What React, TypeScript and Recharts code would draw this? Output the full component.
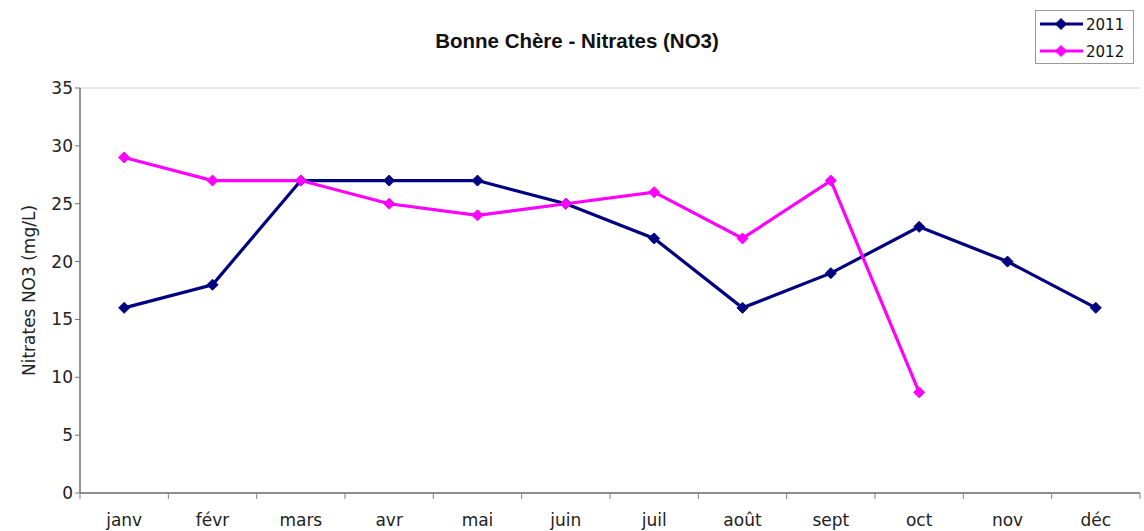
import { CartesianGrid, Line, LineChart, XAxis, YAxis } from "recharts";

const months = ["janv", "févr", "mars", "avr", "mai", "juin", "juil", "août", "sept", "oct", "nov", "déc"];
const values2011 = [16, 18, 27, 27, 27, 25, 22, 16, 19, 23, 20, 16];
const values2012 = [29, 27, 27, 25, 24, 25, 26, 22, 27, 8.7, null, null];
const yTicks = [0, 5, 10, 15, 20, 25, 30, 35];

const SERIES = [
  { key: "2011", color: "#000080" },
  { key: "2012", color: "#FF00FF" },
];

const WIDTH = 1144;
const HEIGHT = 531;
const PLOT_LEFT = 80;
const PLOT_RIGHT = 4;
const HALF_BAND = (WIDTH - PLOT_LEFT - PLOT_RIGHT) / months.length / 2;

const data = months.map((month, i) => ({
  month,
  "2011": values2011[i],
  "2012": values2012[i],
}));

const FONT = "'DejaVu Sans', Verdana, sans-serif";

function Diamond(props: any) {
  const { cx, cy, stroke } = props;
  if (cx == null || cy == null) return null;
  const r = 5.5;
  return (
    <polygon
      points={`${cx},${cy - r} ${cx + r},${cy} ${cx},${cy + r} ${cx - r},${cy}`}
      fill={stroke}
      stroke={stroke}
    />
  );
}

function MonthTick(props: any) {
  const { x, y, payload, index } = props;
  const last = index === months.length - 1;
  return (
    <g>
      <line x1={x - HALF_BAND} x2={x - HALF_BAND} y1={y - 8} y2={y - 2} stroke="#808080" />
      {last && <line x1={x + HALF_BAND} x2={x + HALF_BAND} y1={y - 8} y2={y - 2} stroke="#808080" />}
      <text x={x} y={y + 25} textAnchor="middle" fontSize={17} fontFamily={FONT} fill="#222">
        {payload.value}
      </text>
    </g>
  );
}

function LegendBox() {
  return (
    <svg width={100} height={55} style={{ position: "absolute", left: 1035, top: 10 }}>
      <rect x={0.5} y={0.5} width={98} height={53} fill="#fff" stroke="#999" />
      {SERIES.map((s, i) => {
        const y = 14 + i * 27;
        return (
          <g key={s.key}>
            <line x1={5} x2={48} y1={y} y2={y} stroke={s.color} strokeWidth={3} />
            <Diamond cx={26} cy={y} stroke={s.color} />
            <text x={51} y={y + 5.5} fontSize={15} fontFamily={FONT} fill="#111">
              {s.key}
            </text>
          </g>
        );
      })}
    </svg>
  );
}

export default function App() {
  return (
    <div style={{ position: "absolute", left: 0, top: 0, width: WIDTH, height: HEIGHT, background: "#fff" }}>
      <div
        style={{
          position: "absolute",
          left: 0,
          top: 29,
          width: 1154,
          textAlign: "center",
          fontFamily: "'Liberation Sans', Arial, sans-serif",
          fontWeight: "bold",
          fontSize: 20.5,
          lineHeight: "24px",
          color: "#111",
        }}
      >
        Bonne Chère - Nitrates (NO3)
      </div>
      <LineChart
        width={WIDTH}
        height={HEIGHT}
        data={data}
        margin={{ top: 88, right: PLOT_RIGHT, bottom: 0, left: 0 }}
      >
        <CartesianGrid vertical={false} stroke="#d0d0d0" />
        <XAxis
          dataKey="month"
          padding={{ left: HALF_BAND, right: HALF_BAND }}
          axisLine={{ stroke: "#707070", strokeWidth: 1.5 }}
          tickLine={false}
          tick={<MonthTick />}
          interval={0}
          height={38}
        />
        <YAxis
          yAxisId="left"
          width={PLOT_LEFT}
          domain={[0, 35]}
          ticks={yTicks}
          interval={0}
          axisLine={{ stroke: "#707070", strokeWidth: 1.5 }}
          tickLine={{ stroke: "#707070" }}
          tickSize={5}
          tick={{ fontSize: 17, fontFamily: FONT, fill: "#222" }}
          label={{
            value: "Nitrates NO3 (mg/L)",
            angle: -90,
            position: "insideLeft",
            offset: 29,
            style: { textAnchor: "middle", fontSize: 17, fontFamily: FONT, fill: "#222" },
          }}
        />
        <YAxis
          yAxisId="right"
          orientation="right"
          width={0}
          domain={[0, 35]}
          tick={false}
          tickLine={false}
          axisLine={{ stroke: "#a0a0a0" }}
        />
        {SERIES.map((s) => (
          <Line
            key={s.key}
            yAxisId="left"
            type="linear"
            dataKey={s.key}
            stroke={s.color}
            strokeWidth={3.2}
            dot={<Diamond />}
            activeDot={false}
            connectNulls={false}
            isAnimationActive={false}
          />
        ))}
      </LineChart>
      <LegendBox />
    </div>
  );
}
